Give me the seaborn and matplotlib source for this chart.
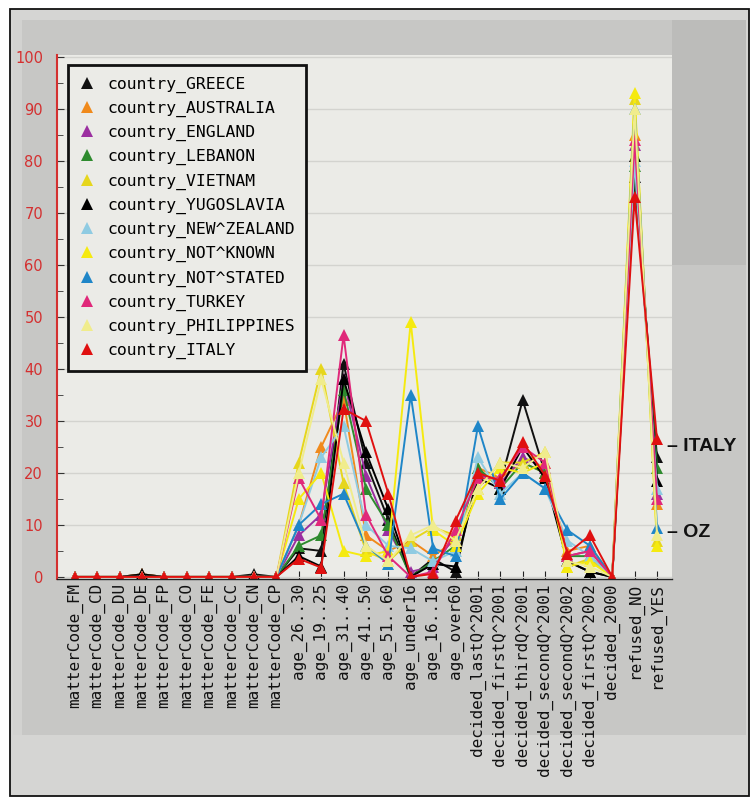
import matplotlib
matplotlib.use("Agg")
import matplotlib.pyplot as plt
from matplotlib.patches import Rectangle
from matplotlib.lines import Line2D
from matplotlib.ticker import MultipleLocator
import numpy as np
import pandas as pd
import seaborn as sns

# ---------------- data ----------------
categories = [
    "matterCode_FM", "matterCode_CD", "matterCode_DU", "matterCode_DE", "matterCode_FP",
    "matterCode_CO", "matterCode_FE", "matterCode_CC", "matterCode_CN", "matterCode_CP",
    "age_26..30", "age_19..25", "age_31..40", "age_41..50", "age_51..60",
    "age_under16", "age_16..18", "age_over60",
    "decided_lastQ^2001", "decided_firstQ^2001", "decided_thirdQ^2001",
    "decided_secondQ^2001", "decided_secondQ^2002", "decided_firstQ^2002",
    "decided_2000", "refused_NO", "refused_YES",
]

greece      = [0, 0, 0, 0.5, 0, 0, 0, 0, 0.5, 0, 5.5, 5, 41, 22, 11, 0, 3.5, 1, 20, 18, 34, 20, 3, 1, 0, 77, 23]
australia   = [0, 0, 0, 0.5, 0, 0, 0, 0, 0, 0, 10, 25, 34, 8, 5, 7, 4, 7, 21, 19, 22, 20, 5, 6, 0, 85, 14]
england     = [0, 0, 0, 0.3, 0, 0, 0, 0, 0, 0, 8, 12, 38, 19.5, 9, 1, 2, 8, 20, 18, 23, 21, 4, 5, 0, 83, 16]
lebanon     = [0, 0, 0, 0, 0, 0, 0, 0, 0, 0, 6, 8, 36, 17, 10, 0, 3, 6, 21, 17, 22, 20, 4, 4, 0, 79, 21]
vietnam     = [0, 0, 0, 0, 0, 0, 0, 0, 0, 0, 22, 40, 18, 5, 3, 7, 9.5, 8, 17, 22, 22, 24, 2, 3.5, 0, 92, 7]
yugoslavia  = [0, 0, 0, 0.5, 0, 0, 0, 0, 0, 0, 4, 2, 38, 24, 13, 0, 2.5, 2, 19, 17, 25, 19, 3, 1, 0, 81, 18.5]
new_zealand = [0, 0, 0, 0, 0, 0, 0, 0, 0, 0, 10, 23, 29, 10, 6, 5.5, 3, 5, 23, 16, 20, 17, 7, 4, 0, 80, 17]
not_known   = [0, 0, 0, 0, 0, 0, 0, 0, 0, 0, 15, 20, 5, 4, 5, 49, 9, 6, 16, 21, 20, 22, 2, 3, 0, 93, 6]
not_stated  = [0, 0, 0, 0, 0, 0, 0, 0, 0, 0, 10, 14, 16, 6, 2.5, 35, 5.5, 4, 29, 15, 20, 17, 9, 6, 0, 90, 9.5]
turkey      = [0, 0, 0, 0, 0, 0, 0, 0, 0, 0, 19, 11, 46.5, 12, 4, 0, 1, 9, 19, 19, 25, 22, 4, 5, 0, 84, 15]
philippines = [0, 0, 0, 0, 0, 0, 0, 0, 0, 0, 20, 38, 22, 6, 3, 8, 10, 7, 17, 22, 21, 24, 3, 2, 0, 90, 8]
italy       = [0, 0, 0, 0, 0, 0, 0, 0, 0, 0, 3.5, 1.8, 32.3, 30, 16, 0, 0.6, 10.8, 20, 18.5, 26, 19.5, 4.5, 8, 0, 73, 26.5]

series_names = [
    "country_GREECE", "country_AUSTRALIA", "country_ENGLAND", "country_LEBANON",
    "country_VIETNAM", "country_YUGOSLAVIA", "country_NEW^ZEALAND", "country_NOT^KNOWN",
    "country_NOT^STATED", "country_TURKEY", "country_PHILIPPINES", "country_ITALY",
]
series_values = [greece, australia, england, lebanon, vietnam, yugoslavia,
                 new_zealand, not_known, not_stated, turkey, philippines, italy]
series_colors = ["#111111", "#f08a1c", "#9b2fa0", "#2e8b2e", "#e6d61c", "#000000",
                 "#8fcbe2", "#f5ea10", "#1f86c8", "#e0287a", "#f0ec8c", "#e01010"]

y_ticks = [0, 10, 20, 30, 40, 50, 60, 70, 80, 90, 100]

# ---------------- long table ----------------
rows = []
for name, vals in zip(series_names, series_values):
    for c, v in zip(categories, vals):
        rows.append({"category": c, "value": v, "country": name})
df = pd.DataFrame(rows)

# ---------------- figure ----------------
W, H = 756, 802
fig = plt.figure(figsize=(W / 100, H / 100), dpi=100, facecolor="white")

def rect_px(x0, y0, x1, y1, fc, ec="none", lw=0, z=-10):
    r = Rectangle((x0 / W, 1 - y1 / H), (x1 - x0) / W, (y1 - y0) / H,
                  transform=fig.transFigure, facecolor=fc, edgecolor=ec,
                  linewidth=lw, zorder=z)
    fig.patches.append(r)

rect_px(10, 9, 749, 796, "#d5d5d3", ec="#111111", lw=1.3, z=-13)
rect_px(13, 20, 746, 735, "#c7c7c5", z=-12)
rect_px(672, 20, 746, 265, "#bcbcba", z=-11)
rect_px(13, 20, 22, 735, "#d2d2d0", z=-11)

ax = fig.add_axes([57 / W, 1 - 579 / H, (672 - 57) / W, (579 - 55) / H])
ax.set_zorder(1)
ax.set_facecolor("#ebebe7")

sns.lineplot(data=df, x="category", y="value", hue="country",
             hue_order=series_names, palette=series_colors,
             marker="^", markersize=8, markeredgewidth=0, linewidth=1.4,
             sort=False, legend=False, ax=ax)

ax.set_xlim(-0.8, 26.67)
ax.set_ylim(-0.4, 100.4)
ax.set_xlabel("")
ax.set_ylabel("")

# grid
ax.set_yticks(y_ticks)
ax.yaxis.set_minor_locator(MultipleLocator(5))
ax.grid(axis="y", which="major", color="#d3d3cf", linewidth=1.0)
ax.grid(axis="x", visible=False)
ax.set_axisbelow(True)

# spines
for s in ["top", "right"]:
    ax.spines[s].set_visible(False)
ax.spines["left"].set_color("#d43030")
ax.spines["left"].set_linewidth(1.5)
ax.spines["bottom"].set_color("#222222")
ax.spines["bottom"].set_linewidth(1.0)

# ticks
ax.set_yticklabels([str(t) for t in y_ticks], color="#d43030",
                   fontsize=10.5, family="DejaVu Sans")
ax.tick_params(axis="y", which="major", direction="in", length=5,
               color="#333333", pad=10)
ax.tick_params(axis="y", which="minor", direction="in", length=4, color="#333333")
ax.set_xticks(range(len(categories)))
ax.set_xticklabels(categories, rotation=90, fontsize=11.5, family="DejaVu Sans Mono",
                   color="#111111")
ax.tick_params(axis="x", which="major", direction="in", length=6,
               color="#222222", pad=3)

# legend
handles = [Line2D([], [], marker="^", linestyle="None", color=c, markersize=8,
                  markeredgewidth=0)
           for c in series_colors]
leg = ax.legend(handles, series_names, loc="upper left",
                bbox_to_anchor=(68 / W, 1 - 65 / H), bbox_transform=fig.transFigure,
                prop={"family": "DejaVu Sans Mono", "size": 11.8},
                frameon=True, fancybox=False, framealpha=1,
                facecolor="#ebebe7", edgecolor="#111111",
                handlelength=0.9, handletextpad=0.8, labelspacing=0.49,
                borderpad=0.7, borderaxespad=0)
leg.get_frame().set_linewidth(2.0)

# side annotations
ax.text(26.45, 25.0, "\u2013 ITALY", fontsize=14, fontweight="bold",
        family="Liberation Sans", va="center", ha="left", clip_on=False,
        color="#111111")
ax.text(26.45, 8.6, "\u2013 OZ", fontsize=14, fontweight="bold",
        family="Liberation Sans", va="center", ha="left", clip_on=False,
        color="#111111")

fig.savefig("out.png", dpi=100, facecolor=fig.get_facecolor())
